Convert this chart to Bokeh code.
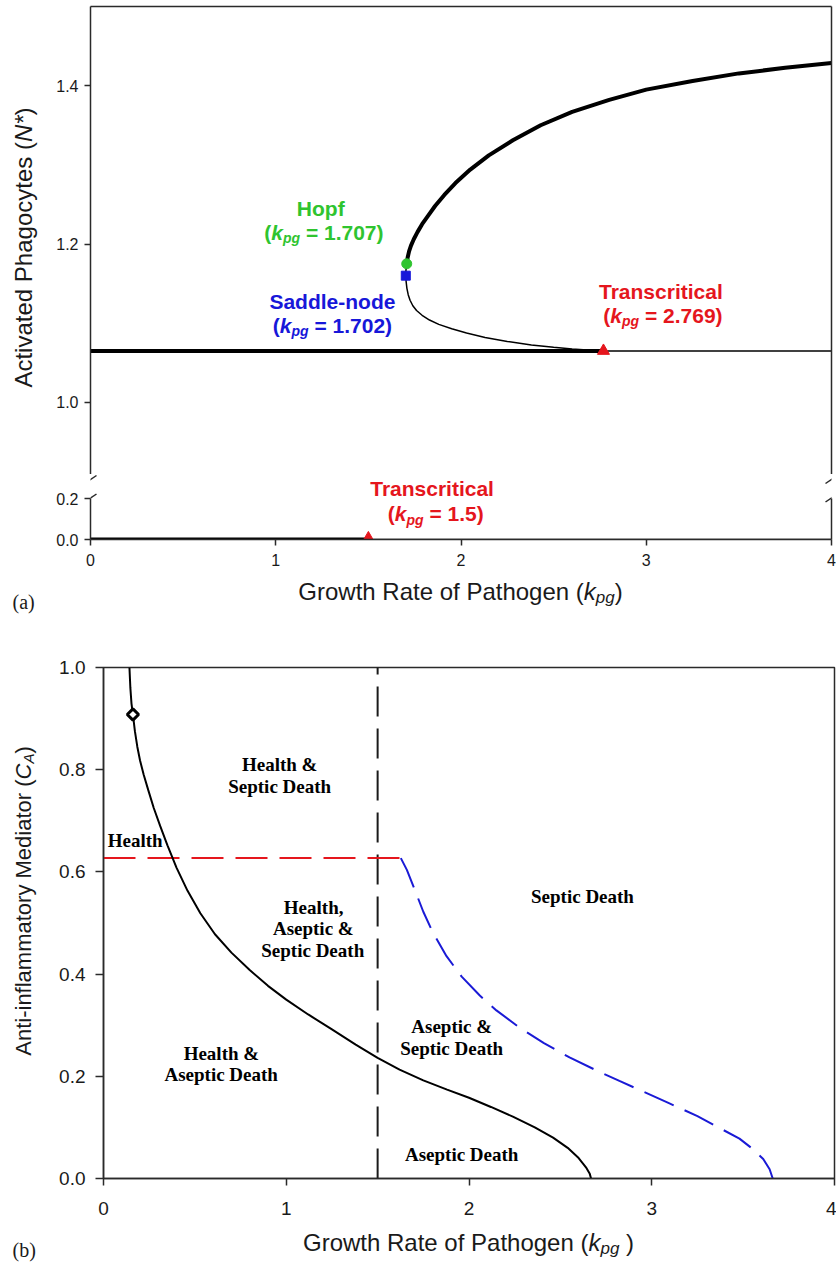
import math
from bokeh.plotting import figure
from bokeh.models import Range1d, LinearAxis, FixedTicker, PrintfTickFormatter, Label, Arrow
from bokeh.layouts import row
from bokeh.embed import file_html
from bokeh.resources import INLINE

# ======================= DATA =======================
# ---- Panel (a): N* versus k_pg ----
k_ticks = [0, 1, 2, 3, 4]
n_ticks_upper = [1.0, 1.2, 1.4]
n_ticks_lower = [0.0, 0.2]

k_hopf, n_hopf = 1.707, 1.175
k_sn, n_sn = 1.702, 1.16
k_tc_high, n_tc_high = 2.769, 1.065
k_tc_low, n_tc_low = 1.5, 0.0

upper_stable_k = [1.707, 1.712, 1.72, 1.73, 1.745, 1.765, 1.79, 1.82, 1.86, 1.91, 1.97, 2.05, 2.15,
                  2.28, 2.43, 2.6, 2.8, 3.0, 3.25, 3.5, 3.75, 4.0]
upper_stable_n = [1.175, 1.183, 1.191, 1.198, 1.206, 1.215, 1.225, 1.235, 1.248, 1.262, 1.277, 1.294,
                  1.312, 1.331, 1.350, 1.367, 1.382, 1.395, 1.406, 1.4155, 1.4225, 1.4285]

sn_hopf_k = [1.702, 1.703, 1.707]
sn_hopf_n = [1.16, 1.167, 1.175]

mid_unstable_k = [1.702, 1.704, 1.708, 1.715, 1.725, 1.74, 1.76, 1.79, 1.83, 1.88, 1.95, 2.03, 2.13,
                  2.25, 2.38, 2.5, 2.6, 2.7, 2.769]
mid_unstable_n = [1.16, 1.152, 1.144, 1.136, 1.129, 1.122, 1.116, 1.11, 1.104, 1.0985, 1.093, 1.0875,
                  1.082, 1.077, 1.0725, 1.0695, 1.0675, 1.0658, 1.065]

flat_stable_k = [0.0, 2.769]
flat_stable_n = [1.065, 1.065]
flat_unstable_k = [2.769, 4.0]
flat_unstable_n = [1.065, 1.065]

zero_stable_k = [0.0, 1.5]
zero_stable_n = [0.0, 0.0]
zero_unstable_k = [1.5, 4.0]
zero_unstable_n = [0.0, 0.0]

# ---- Panel (b): C_A versus k_pg ----
ca_ticks = [0.0, 0.2, 0.4, 0.6, 0.8, 1.0]

black_k = [0.142, 0.147, 0.153, 0.161, 0.172, 0.185, 0.20, 0.22, 0.245, 0.275, 0.31, 0.35, 0.40, 0.46,
           0.53, 0.61, 0.70, 0.80, 0.90, 1.0, 1.12, 1.25, 1.38, 1.5, 1.62, 1.75, 1.88, 2.0, 2.12, 2.24,
           2.36, 2.46, 2.54, 2.60, 2.64, 2.66, 2.668]
black_ca = [1.0, 0.96, 0.93, 0.908, 0.875, 0.845, 0.818, 0.79, 0.76, 0.725, 0.69, 0.652, 0.608, 0.563,
            0.519, 0.478, 0.442, 0.408, 0.377, 0.350, 0.321, 0.292, 0.262, 0.236, 0.213, 0.192, 0.174,
            0.158, 0.140, 0.121, 0.100, 0.080, 0.060, 0.040, 0.022, 0.010, 0.0]

blue_k = [1.627, 1.66, 1.70, 1.75, 1.80, 1.877, 1.96, 2.059, 2.15, 2.278, 2.41, 2.55, 2.70, 2.823,
          3.097, 3.25, 3.37, 3.48, 3.552, 3.61, 3.645, 3.662]
blue_ca = [0.627, 0.604, 0.568, 0.522, 0.483, 0.435, 0.395, 0.358, 0.329, 0.295, 0.265, 0.237, 0.211, 0.191,
           0.147, 0.122, 0.099, 0.078, 0.058, 0.038, 0.018, 0.0]

red_k = [0.0, 1.627]
red_ca = [0.627, 0.627]

vline_k = [1.5, 1.5]
vline_ca = [0.0, 1.0]

marker_b_k, marker_b_ca = 0.161, 0.908

# ======================= STYLE =======================
SANS = "Liberation Sans"
SERIF = "Liberation Serif"
AX = "#2a2a2a"
TXT = "#1a1a1a"
GREEN = "#2fc42f"
BLUE = "#1717d9"
RED = "#e5161d"
BLUE_B = "#1a1ad6"

W_REG = {' ': 278, '(': 333, ')': 333, '*': 389, '-': 333, '.': 278, '=': 584, '&': 667, ',': 278,
         'A': 667, 'B': 667, 'C': 722, 'D': 722, 'E': 667, 'F': 611, 'G': 778, 'H': 722, 'I': 278,
         'J': 500, 'K': 667, 'L': 556, 'M': 833, 'N': 722, 'O': 778, 'P': 667, 'Q': 778, 'R': 722,
         'S': 667, 'T': 611, 'U': 722, 'V': 667, 'W': 944, 'X': 667, 'Y': 667, 'Z': 611,
         'a': 556, 'b': 556, 'c': 500, 'd': 556, 'e': 556, 'f': 278, 'g': 556, 'h': 556, 'i': 222,
         'j': 222, 'k': 500, 'l': 222, 'm': 833, 'n': 556, 'o': 556, 'p': 556, 'q': 556, 'r': 333,
         's': 500, 't': 278, 'u': 556, 'v': 500, 'w': 722, 'x': 500, 'y': 500, 'z': 500}
W_BOLD = {' ': 278, '(': 333, ')': 333, '*': 389, '-': 333, '.': 278, '=': 584, '&': 722, ',': 278,
          'A': 722, 'B': 722, 'C': 722, 'D': 722, 'E': 667, 'F': 611, 'G': 778, 'H': 722, 'I': 278,
          'J': 556, 'K': 722, 'L': 611, 'M': 833, 'N': 722, 'O': 778, 'P': 667, 'Q': 778, 'R': 722,
          'S': 667, 'T': 611, 'U': 722, 'V': 667, 'W': 944, 'X': 667, 'Y': 667, 'Z': 611,
          'a': 556, 'b': 611, 'c': 556, 'd': 611, 'e': 556, 'f': 333, 'g': 611, 'h': 611, 'i': 278,
          'j': 278, 'k': 556, 'l': 278, 'm': 889, 'n': 611, 'o': 611, 'p': 611, 'q': 611, 'r': 389,
          's': 556, 't': 333, 'u': 611, 'v': 556, 'w': 778, 'x': 556, 'y': 556, 'z': 500}


def tw(s, fs, bold):
    tbl = W_BOLD if bold else W_REG
    return sum(tbl.get(c, 556) for c in s) * fs / 1000.0


def rich(p, x, y, parts, color, angle=0.0, font=SANS):
    """Place a run of differently styled text pieces centred on (x, y)."""
    total = sum(tw(t, fs, b) for t, fs, b, it, d in parts)
    pos = -total / 2.0
    for t, fs, b, it, d in parts:
        sp = tw(' ', fs, b)
        lead = len(t) - len(t.lstrip(' '))
        trail = len(t) - len(t.rstrip(' '))
        core = t.strip(' ')
        pos += lead * sp
        style = ("bold " if b else "") + ("italic" if it else "")
        style = style.strip() or "normal"
        if angle == 0.0:
            xo, yo = pos, -d
        else:
            xo, yo = d, pos
        p.add_layout(Label(x=x, y=y, x_offset=xo, y_offset=yo, text=core, angle=angle,
                           text_font=font, text_font_size=f"{fs}px", text_font_style=style,
                           text_color=color, text_align="left", text_baseline="alphabetic"))
        pos += tw(core, fs, b) + trail * sp


def axis(ticks, fmt, size, tick_out, standoff, bounds="auto"):
    return LinearAxis(ticker=FixedTicker(ticks=ticks), formatter=PrintfTickFormatter(format=fmt),
                      axis_line_color=AX, axis_line_width=1.5, major_tick_line_color=AX,
                      major_tick_line_width=1.5, major_tick_out=tick_out, major_tick_in=0,
                      minor_tick_out=0, minor_tick_in=0, major_label_standoff=standoff,
                      major_label_text_font=SANS, major_label_text_font_size=f"{size}px",
                      major_label_text_color=TXT, bounds=bounds)


def blank_axis(bounds="auto"):
    return LinearAxis(ticker=FixedTicker(ticks=[]), axis_line_color=AX, axis_line_width=1.5,
                      major_tick_out=0, major_tick_in=0, minor_tick_out=0, minor_tick_in=0,
                      major_label_standoff=0, major_label_text_font_size="0px", bounds=bounds)


def base_fig(fw, fh, xr, yr, ml, mr, mt, mb, outline=None):
    p = figure(frame_width=fw, frame_height=fh, x_range=xr, y_range=yr,
               x_axis_location=None, y_axis_location=None, toolbar_location=None,
               output_backend="svg", min_border_left=ml, min_border_right=mr,
               min_border_top=mt, min_border_bottom=mb, outline_line_color=outline,
               background_fill_color="white", border_fill_color="white")
    for g in p.grid:
        g.visible = False
    return p


FS = 21
TITLE_FS = 24

# ======================= PANEL (a), upper part =======================
SXa, SYl = 185.25, 205.0
U_TOP, U_BOT, L_BOT = 6, 474, 539
U = base_fig(741, U_BOT - U_TOP, Range1d(0, 4), Range1d(1.5 - (U_BOT - U_TOP) / 791.7, 1.5), 45, 5, U_TOP, 0)
U.add_layout(axis(n_ticks_upper, "%.1f", 16, 6, 6), "left")
U.add_layout(blank_axis(), "above")
U.add_layout(blank_axis(), "right")

U.line(flat_stable_k, flat_stable_n, line_color="black", line_width=4)
U.line(flat_unstable_k, flat_unstable_n, line_color="black", line_width=1.5)
U.line(mid_unstable_k, mid_unstable_n, line_color="black", line_width=1.5)
U.line(sn_hopf_k, sn_hopf_n, line_color="black", line_width=1.5)
U.line(upper_stable_k, upper_stable_n, line_color="black", line_width=4)
U.scatter([k_hopf], [n_hopf], marker="circle", size=10, fill_color=GREEN, line_color=GREEN)
U.scatter([k_sn], [n_sn], marker="square", size=9, fill_color=BLUE, line_color=BLUE)
U.scatter([k_tc_high], [n_tc_high], marker="triangle", size=12, fill_color=RED, line_color=RED)

rich(U, 1.243, 1.245, [("Hopf", FS, True, False, 0)], GREEN)
rich(U, 1.26, 1.215, [("(", FS, True, False, 0), ("k", FS, True, True, 0), ("pg", 14, True, True, 6),
                      (" = 1.707)", FS, True, False, 0)], GREEN)
rich(U, 1.306, 1.1275, [("Saddle-node", FS, True, False, 0)], BLUE)
rich(U, 1.306, 1.0975, [("(", FS, True, False, 0), ("k", FS, True, True, 0), ("pg", 14, True, True, 6),
                        (" = 1.702)", FS, True, False, 0)], BLUE)
rich(U, 3.082, 1.14, [("Transcritical", FS, True, False, 0)], RED)
rich(U, 3.09, 1.11, [("(", FS, True, False, 0), ("k", FS, True, True, 0), ("pg", 14, True, True, 6),
                     (" = 2.769)", FS, True, False, 0)], RED)

# y-axis title strip for panel (a) (pixel coordinates)
YTa = base_fig(45, U_BOT - U_TOP, Range1d(0, 45), Range1d(0, U_BOT - U_TOP), 0, 0, U_TOP, 0)
rich(YTa, 23, U_BOT - 247,
     [("Activated Phagocytes (", TITLE_FS, False, False, 0), ("N*", TITLE_FS, False, True, 0),
      (")", TITLE_FS, False, False, 0)], TXT, angle=math.pi / 2)

# ======================= PANEL (a), lower part =======================
L = base_fig(741, L_BOT - U_BOT, Range1d(0, 4), Range1d(0, (L_BOT - U_BOT) / SYl), 90, 5, 0, 34)
L.add_layout(axis(n_ticks_lower, "%.1f", 16, 6, 6, bounds=(0, 0.2)), "left")
L.add_layout(axis(k_ticks, "%d", 16, 6, 8), "below")
L.add_layout(blank_axis(bounds=(0, 0.2)), "right")

L.line(zero_unstable_k, zero_unstable_n, line_color="black", line_width=1.5)
L.line(zero_stable_k, zero_stable_n, line_color="black", line_width=4)
L.scatter([k_tc_low], [n_tc_low], marker="triangle", size=14, fill_color=RED, line_color=RED)

rich(L, 1.847, (L_BOT - 488) / SYl, [("Transcritical", FS, True, False, 0)], RED)
rich(L, 1.864, (L_BOT - 513) / SYl, [("(", FS, True, False, 0), ("k", FS, True, True, 0),
                                     ("pg", 14, True, True, 6), (" = 1.5)", FS, True, False, 0)], RED)

# axis-break marks
dx, dy = 6 / SXa, 4 / SYl
for xc in (0.0, 4.0):
    for yc in ((L_BOT - 479) / SYl, (L_BOT - 497.5) / SYl):
        L.add_layout(Arrow(end=None, x_start=xc - dx, y_start=yc - dy, x_end=xc + dx, y_end=yc + dy,
                           line_color=AX, line_width=1.5))

# x-axis title strip for panel (a) (pixel coordinates)
XTa = base_fig(836, 42, Range1d(0, 836), Range1d(0, 42), 0, 0, 0, 0)
rich(XTa, 460, 24,
     [("Growth Rate of Pathogen (", TITLE_FS, False, False, 0), ("k", TITLE_FS, False, True, 0),
      ("pg", 17, False, True, 6), (")", TITLE_FS, False, False, 0)], TXT)
XTa.add_layout(Label(x=12, y=14, text="(a)", text_font=SERIF, text_font_size="20px",
                     text_align="left", text_baseline="middle", text_color=TXT))

# ======================= PANEL (b) =======================
B = base_fig(731, 511, Range1d(0, 4), Range1d(0, 1), 53, 2, 52, 46, outline=AX)
B.outline_line_width = 1.5
B.add_layout(axis(ca_ticks, "%.1f", 19, 8, 10), "left")
B.add_layout(axis(k_ticks, "%d", 19, 7, 16), "below")

B.line(vline_k, vline_ca, line_color=TXT, line_width=2, line_dash="30 12")
B.line(red_k, red_ca, line_color=RED, line_width=2, line_dash="32 12")
B.line(blue_k, blue_ca, line_color=BLUE_B, line_width=2, line_dash="32 12")
B.line(black_k, black_ca, line_color="black", line_width=2)
B.scatter([marker_b_k], [marker_b_ca], marker="square", angle=math.pi / 4, size=8,
          fill_color="white", line_color="black", line_width=3)

region_labels = [
    ("Health &", 0.964, 0.81), ("Septic Death", 0.964, 0.768),
    ("Health", 0.173, 0.662),
    ("Health,", 1.15, 0.531), ("Aseptic &", 1.148, 0.49), ("Septic Death", 1.145, 0.447),
    ("Health &", 0.645, 0.244), ("Aseptic Death", 0.644, 0.203),
    ("Aseptic &", 1.905, 0.2965), ("Septic Death", 1.905, 0.255),
    ("Aseptic Death", 1.96, 0.0465),
    ("Septic Death", 2.621, 0.551),
]
for t, x, y in region_labels:
    B.add_layout(Label(x=x, y=y, text=t, text_font=SERIF, text_font_size="19px", text_font_style="bold",
                       text_align="center", text_baseline="middle", text_color="black"))

YTb = base_fig(50, 511, Range1d(0, 50), Range1d(0, 511), 0, 0, 52, 46)
rich(YTb, 23, 1178.5 - 901,
     [("Anti-inflammatory Mediator (", 22, False, False, 0), ("C", 22, False, True, 0),
      ("A", 15, False, True, 5), (")", 22, False, False, 0)], TXT, angle=math.pi / 2)

XTb = base_fig(836, 38, Range1d(0, 836), Range1d(0, 38), 0, 0, 0, 0)
rich(XTb, 468, 20,
     [("Growth Rate of Pathogen (", TITLE_FS, False, False, 0), ("k", TITLE_FS, False, True, 0),
      ("pg", 17, False, True, 6), (" )", TITLE_FS, False, False, 0)], TXT)
XTb.add_layout(Label(x=12, y=13, text="(b)", text_font=SERIF, text_font_size="20px",
                     text_align="left", text_baseline="middle", text_color=TXT))

roots = [row(YTa, U), L, XTa, row(YTb, B), XTb]
open("out.html", "w").write(file_html(roots, INLINE))
